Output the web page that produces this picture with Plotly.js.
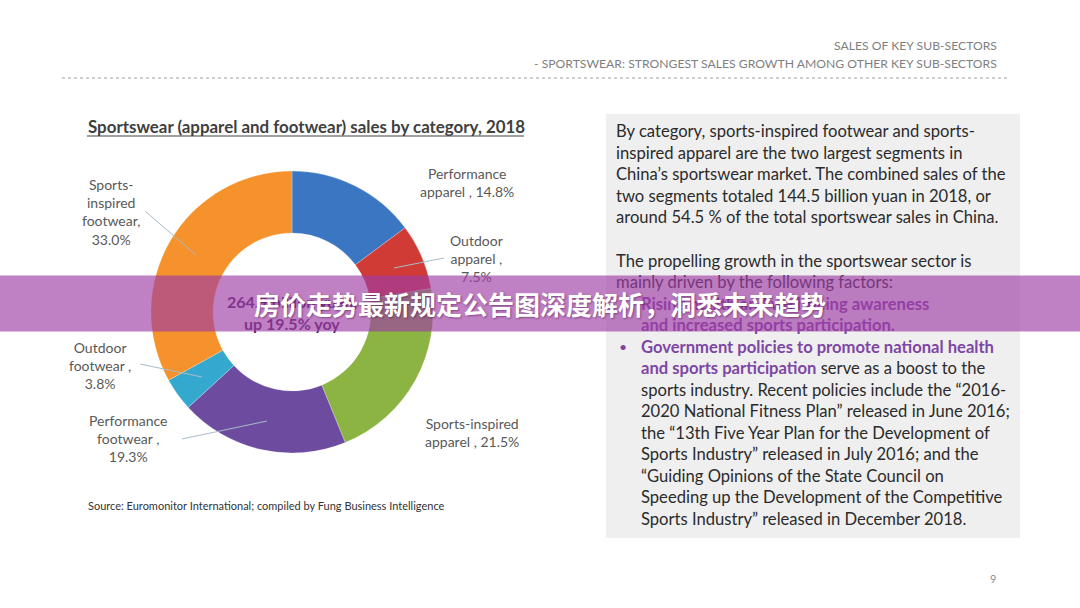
<!DOCTYPE html>
<html><head><meta charset="utf-8">
<script src="https://cdn.plot.ly/plotly-3.0.1.min.js"></script>
<style>html,body{margin:0;padding:0;background:#fff;}#chart{width:1080px;height:608px;}</style>
</head><body><div id="chart"></div>
<script>
// ---- data ----
const categories = ["Performance apparel", "Outdoor apparel", "Sports-inspired apparel", "Performance footwear", "Outdoor footwear", "Sports-inspired footwear"];
const shares = [14.8, 7.5, 21.5, 19.3, 3.8, 33.0];
const sliceColors = ["#3b76c2", "#d13b35", "#8bb443", "#6d4c9f", "#35a8cf", "#f5922b"];
const labelHeads = ["Performance<br>apparel", "Outdoor<br>apparel", "Sports-inspired<br>apparel", "Performance<br>footwear", "Outdoor<br>footwear", "Sports-<br>inspired<br>footwear"];
const labelSeps = [" , ", " ,<br>", " , ", " ,<br>", " ,<br>", ",<br>"];
const centerLines = ["264.9 billion yuan,", "up 19.5% yoy"];
const headerLines = ["SALES OF KEY SUB-SECTORS", "- SPORTSWEAR: STRONGEST SALES GROWTH AMONG OTHER KEY SUB-SECTORS"];
const chartTitle = "Sportswear (apparel and footwear) sales by category, 2018";
const sourceNote = "Source: Euromonitor International; compiled by Fung Business Intelligence";
const bannerText = "房价走势最新规定公告图深度解析，洞悉未来趋势";
const pageNumber = "9";
const para1 = [
  "By category, sports-inspired footwear and sports-",
  "inspired apparel are the two largest segments in",
  "China’s sportswear market. The combined sales of the",
  "two segments totaled 144.5 billion yuan in 2018, or",
  "around 54.5 % of the total sportswear sales in China."
];
const para2 = [
  "The propelling growth in the sportswear sector is",
  "mainly driven by the following factors:"
];
const bullet1 = [
  "Rising health and well-being awareness",
  "and increased sports participation."
];
const bullet2Bold = ["Government policies to promote national health", "and sports participation"];
const bullet2 = [
  " serve as a boost to the",
  "sports industry. Recent policies include the “2016-",
  "2020 National Fitness Plan” released in June 2016;",
  "the “13th Five Year Plan for the Development of",
  "Sports Industry” released in July 2016; and the",
  "“Guiding Opinions of the State Council on",
  "Speeding up the Development of the Competitive",
  "Sports Industry” released in December 2018."
];

// ---- layout helpers ----
const W = 1080, H = 608;
const X = px => px / W;
const Y = py => 1 - py / H;
const FONT = "Lato, 'Open Sans', sans-serif";
const TXT = "#2b2b2b", PURPLE = "#7e46a4";

const cx = 292, cy = 312, R = 141;

const trace = {
  type: "pie",
  values: shares,
  labels: categories,
  marker: {colors: sliceColors, line: {color: "rgba(255,255,255,0.5)", width: 0.5}},
  hole: 0.56,
  sort: false,
  direction: "clockwise",
  rotation: 0,
  textinfo: "none",
  hoverinfo: "skip",
  showlegend: false,
  domain: {x: [X(cx - R), X(cx + R)], y: [Y(cy + R), Y(cy - R)]}
};

const annotations = [];
function txt(text, px, py, opts) {
  opts = opts || {};
  annotations.push(Object.assign({
    text: text, x: X(px), y: Y(py), xref: "paper", yref: "paper",
    xanchor: opts.xanchor || "left", yanchor: "middle", showarrow: false,
    align: opts.align || "left",
    font: Object.assign({family: FONT, size: 16.6, color: TXT}, opts.font || {})
  }, opts.extra || {}));
}

// header
txt(headerLines[0], 999, 45, {xanchor: "right", align: "right", font: {size: 12.2, color: "#7f7f7f"}});
txt(headerLines[1], 999, 63, {xanchor: "right", align: "right", font: {size: 12.2, color: "#7f7f7f"}});

// chart title + source
txt(chartTitle, 86, 127, {font: {size: 16.9, color: "#404040", weight: "bold"}});
txt(sourceNote, 86, 505, {font: {size: 11, color: "#333333"}});
txt(pageNumber, 993, 578, {xanchor: "center", font: {size: 11, color: "#8c8c8c"}});

// slice labels
const labelPos = [[467, 182.5], [476, 258], [472, 432.5], [128, 438.5], [100, 365], [111, 211.5]];
categories.forEach((c, i) => {
  txt(labelHeads[i] + labelSeps[i] + shares[i].toFixed(1) + "%", labelPos[i][0], labelPos[i][1],
      {xanchor: "center", align: "center", font: {size: 14, color: "#595959"}});
});

// center text
txt(centerLines[0], cx, 301, {xanchor: "center", align: "center", font: {size: 16, color: "#4a2560", weight: "bold"}});
txt(centerLines[1], cx, 323, {xanchor: "center", align: "center", font: {size: 16, color: "#4a2560", weight: "bold"}});

// right panel text
const LX = 614, BX = 639, STEP = 21.5;
para1.forEach((l, i) => txt(l, LX, 131 + i * STEP));
let y2 = 260.5;
para2.forEach((l, i) => txt(l, LX, y2 + i * STEP));
y2 += para2.length * STEP;
txt("•", 617, y2, {font: {size: 14, color: PURPLE}});
bullet1.forEach((l, i) => txt(l, BX, y2 + i * STEP, {font: {color: PURPLE, weight: "bold"}}));
y2 += bullet1.length * STEP;
txt("•", 617, y2, {font: {size: 14, color: PURPLE}});
txt(bullet2Bold[0], BX, y2, {font: {color: PURPLE, weight: "bold"}});
txt("<span style='color:" + PURPLE + ";font-weight:bold'>" + bullet2Bold[1] + "</span>" + bullet2[0], BX, y2 + STEP);
bullet2.slice(1).forEach((l, i) => txt(l, BX, y2 + (i + 2) * STEP));

// banner (last so it overlays everything)
annotations.push({
  text: bannerText, x: 0.5, y: Y(303.5), xref: "paper", yref: "paper",
  xanchor: "center", yanchor: "middle", showarrow: false,
  width: W, height: 55, borderpad: 0, bgcolor: "rgba(158,60,165,0.65)",
  font: {family: "'Noto Sans CJK SC', sans-serif", size: 26, color: "#ffffff", weight: "bold",
         shadow: "1px 1px 2px rgba(60,0,60,0.45)"}
});

const leader = (x0, y0, x1, y1) => ({type: "line", xref: "paper", yref: "paper",
  x0: X(x0), y0: Y(y0), x1: X(x1), y1: Y(y1), line: {color: "#a9bccb", width: 1}, layer: "above"});

const shapes = [
  {type: "rect", xref: "paper", yref: "paper", x0: X(606), x1: X(1020), y0: Y(538), y1: Y(114),
   fillcolor: "#efefef", line: {width: 0}, layer: "below"},
  {type: "line", xref: "paper", yref: "paper", x0: X(62), x1: X(1008), y0: Y(78), y1: Y(78),
   line: {color: "#a0a0a0", width: 1, dash: "dot"}},
  {type: "line", xref: "paper", yref: "paper", x0: X(87), x1: X(524), y0: Y(136), y1: Y(136),
   line: {color: "#404040", width: 1}},
  leader(145, 211, 196, 255),
  leader(394, 268, 444, 258),
  leader(140, 364, 202, 377),
  leader(182, 439, 267, 421)
];

const layout = {
  width: W, height: H,
  margin: {l: 0, r: 0, t: 0, b: 0},
  paper_bgcolor: "#ffffff", plot_bgcolor: "#ffffff",
  showlegend: false,
  annotations: annotations,
  shapes: shapes
};

Plotly.newPlot("chart", [trace], layout, {displayModeBar: false, staticPlot: true});
</script>
</body></html>
